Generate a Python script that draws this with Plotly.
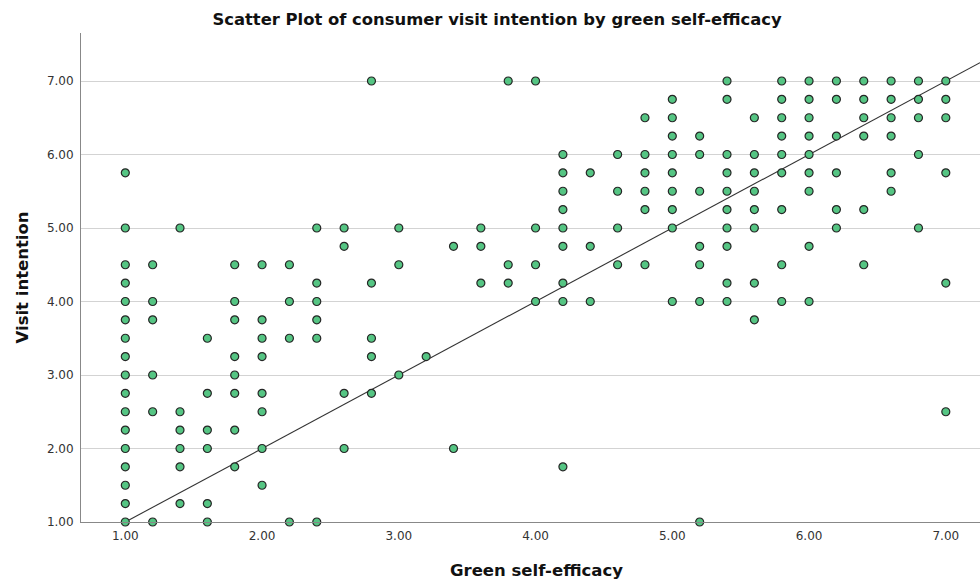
import plotly.graph_objects as go

# Green self-efficacy levels (x) and the visit-intention values observed at each level
x_levels = [1.0, 1.2, 1.4, 1.6, 1.8, 2.0, 2.2, 2.4, 2.6, 2.8, 3.0, 3.2, 3.4, 3.6, 3.8,
            4.0, 4.2, 4.4, 4.6, 4.8, 5.0, 5.2, 5.4, 5.6, 5.8, 6.0, 6.2, 6.4, 6.6, 6.8, 7.0]
y_by_level = [
    [1.0, 1.25, 1.5, 1.75, 2.0, 2.25, 2.5, 2.75, 3.0, 3.25, 3.5, 3.75, 4.0, 4.25, 4.5, 5.0, 5.75],
    [4.5, 4.0, 3.75, 3.0, 2.5, 1.0],
    [5.0, 2.5, 2.25, 2.0, 1.75, 1.25],
    [3.5, 2.75, 2.25, 2.0, 1.25, 1.0],
    [4.5, 4.0, 3.75, 3.25, 3.0, 2.75, 2.25, 1.75],
    [4.5, 3.75, 3.5, 3.25, 2.75, 2.5, 2.0, 1.5],
    [4.5, 4.0, 3.5, 1.0],
    [5.0, 4.25, 4.0, 3.75, 3.5, 1.0],
    [5.0, 4.75, 2.75, 2.0],
    [7.0, 4.25, 3.5, 3.25, 2.75],
    [5.0, 4.5, 3.0],
    [3.25],
    [4.75, 2.0],
    [5.0, 4.75, 4.25],
    [7.0, 4.5, 4.25],
    [7.0, 5.0, 4.5, 4.0],
    [6.0, 5.75, 5.5, 5.25, 5.0, 4.75, 4.25, 4.0, 1.75],
    [5.75, 4.75, 4.0],
    [6.0, 5.5, 5.0, 4.5],
    [6.5, 6.0, 5.75, 5.5, 5.25, 4.5],
    [6.75, 6.5, 6.25, 6.0, 5.75, 5.5, 5.25, 5.0, 4.0],
    [6.25, 6.0, 5.5, 4.75, 4.5, 4.0, 1.0],
    [7.0, 6.75, 6.0, 5.75, 5.5, 5.25, 5.0, 4.75, 4.25, 4.0],
    [6.5, 6.0, 5.75, 5.5, 5.25, 5.0, 4.25, 3.75],
    [7.0, 6.75, 6.5, 6.25, 6.0, 5.75, 5.25, 4.5, 4.0],
    [7.0, 6.75, 6.5, 6.25, 6.0, 5.75, 5.5, 4.75, 4.0],
    [7.0, 6.75, 6.25, 5.75, 5.25, 5.0],
    [7.0, 6.75, 6.5, 6.25, 5.25, 4.5],
    [7.0, 6.75, 6.5, 6.25, 5.75, 5.5],
    [7.0, 6.75, 6.5, 6.0, 5.0],
    [7.0, 6.75, 6.5, 5.75, 4.25, 2.5],
]

# Reference / fit line (visit intention = green self-efficacy)
line_x = [1.0, 7.25]
line_y = [1.0, 7.25]

tick_vals = [1, 2, 3, 4, 5, 6, 7]
tick_text = ["1.00", "2.00", "3.00", "4.00", "5.00", "6.00", "7.00"]

green_self_efficacy = []
visit_intention = []
for xv, ys in zip(x_levels, y_by_level):
    for yv in ys:
        green_self_efficacy.append(xv)
        visit_intention.append(yv)

FONT = "DejaVu Sans, Verdana, sans-serif"

fig = go.Figure()
fig.add_trace(go.Scatter(
    x=line_x, y=line_y, mode="lines",
    line=dict(color="#333333", width=1.1),
    hoverinfo="skip", showlegend=False,
))
fig.add_trace(go.Scatter(
    x=green_self_efficacy, y=visit_intention, mode="markers",
    marker=dict(size=8, color="#55c583", line=dict(color="#262626", width=1.2)),
    cliponaxis=False, showlegend=False,
))

fig.update_layout(
    width=980, height=583,
    margin=dict(l=81, r=0, t=33, b=61),
    paper_bgcolor="white", plot_bgcolor="white",
    font=dict(family=FONT, color="#222222"),
    title=dict(
        text="<b>Scatter Plot of consumer visit intention by green self-efficacy</b>",
        x=497 / 980, xref="container", xanchor="center",
        y=1 - 19 / 583, yref="container", yanchor="middle",
        font=dict(family=FONT, size=16.4, color="#111111"),
    ),
    xaxis=dict(
        range=[0.676, 7.25], tickvals=tick_vals, ticktext=tick_text,
        showgrid=False, zeroline=False, showline=True, linecolor="#888888", linewidth=1,
        ticks="outside", ticklen=3, tickcolor="rgba(0,0,0,0)",
        tickfont=dict(family=FONT, size=12, color="#333333"),
    ),
    yaxis=dict(
        range=[1.0, 7.653], tickvals=tick_vals, ticktext=tick_text,
        showgrid=True, gridcolor="#d3d3d3", gridwidth=1.2,
        zeroline=False, showline=True, linecolor="#888888", linewidth=1,
        ticks="outside", ticklen=4, tickcolor="rgba(0,0,0,0)",
        tickfont=dict(family=FONT, size=12, color="#333333"),
    ),
    annotations=[
        dict(text="<b>Green self-efficacy</b>", xref="paper", yref="paper",
             x=0.507, y=0, yshift=-48, xanchor="center", yanchor="middle",
             showarrow=False, font=dict(family=FONT, size=16.5, color="#111111")),
        dict(text="<b>Visit intention</b>", xref="paper", yref="paper",
             x=0, y=0.5, xshift=-59, xanchor="center", yanchor="middle",
             textangle=-90, showarrow=False, font=dict(family=FONT, size=16.5, color="#111111")),
    ],
)

fig.write_html("out.html", config={"displayModeBar": False},
               post_script="document.body.style.margin='0';")
